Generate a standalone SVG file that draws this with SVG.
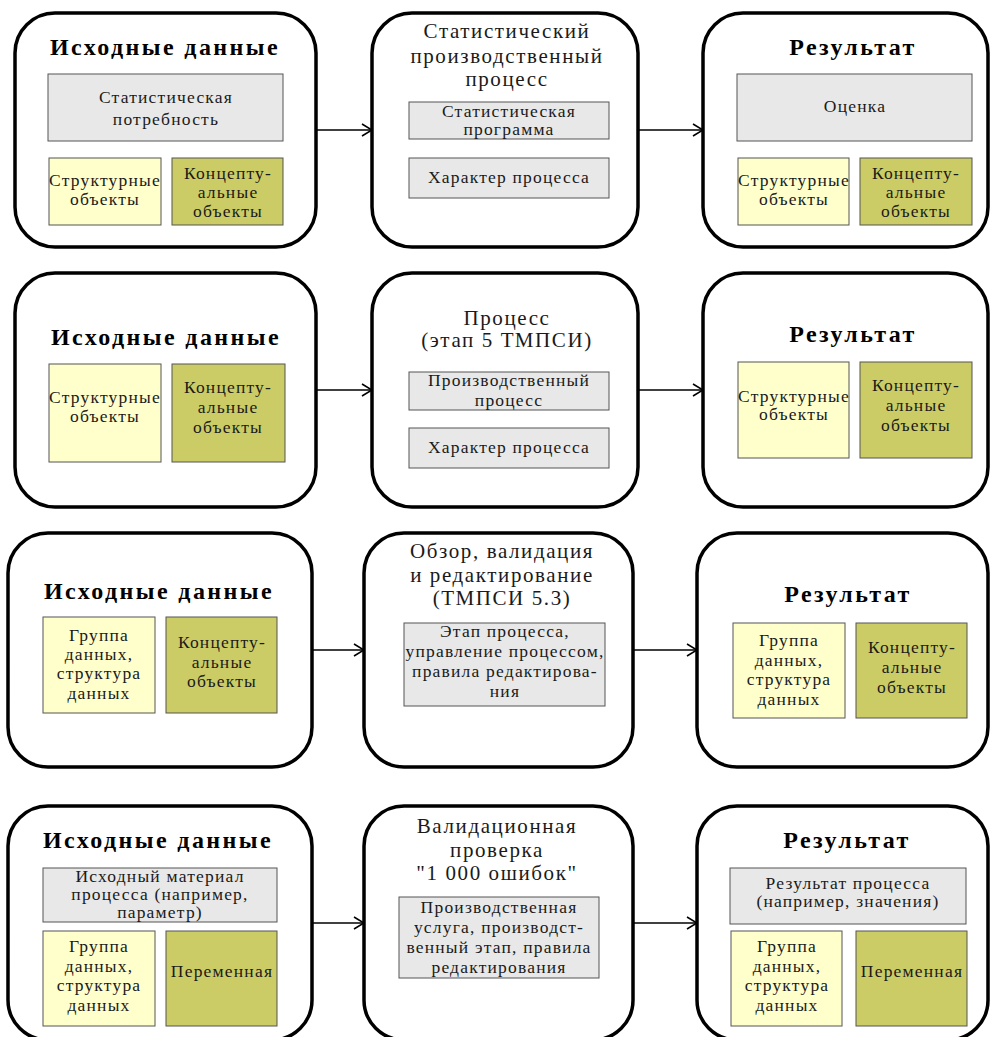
<svg xmlns="http://www.w3.org/2000/svg" width="991" height="1037" viewBox="0 0 991 1037">
<defs>
<marker id="arr" markerWidth="12" markerHeight="14" refX="11" refY="7" orient="auto" markerUnits="userSpaceOnUse">
<path d="M1,1 L11,7 L1,13" fill="none" stroke="#000" stroke-width="1.6"/>
</marker>
<style>
.panel{fill:#fff;stroke:#000;stroke-width:3.5}
.g{fill:#e8e8e8;stroke:#555;stroke-width:1}
.y{fill:#ffffcc;stroke:#555;stroke-width:1}
.o{fill:#cccc66;stroke:#555;stroke-width:1}
.h{font-family:"Liberation Serif",serif;font-weight:bold;font-size:24px;letter-spacing:2.4px;text-anchor:middle;fill:#000}
.t{font-family:"Liberation Serif",serif;font-size:17.5px;letter-spacing:1.2px;text-anchor:middle;fill:#1a1a1a}
.m{font-family:"Liberation Serif",serif;font-size:21px;letter-spacing:1.6px;text-anchor:middle;fill:#1a1a1a}
.c{fill:none;stroke:#000;stroke-width:1.6}
</style>
</defs>

<g id="connectors">
<line class="c" x1="316" y1="130" x2="372" y2="130" marker-end="url(#arr)"/>
<line class="c" x1="638" y1="130" x2="703" y2="130" marker-end="url(#arr)"/>
<line class="c" x1="316" y1="390" x2="372" y2="390" marker-end="url(#arr)"/>
<line class="c" x1="638" y1="390" x2="703" y2="390" marker-end="url(#arr)"/>
<line class="c" x1="312" y1="650" x2="364" y2="650" marker-end="url(#arr)"/>
<line class="c" x1="633" y1="650" x2="697" y2="650" marker-end="url(#arr)"/>
<line class="c" x1="312" y1="923" x2="364" y2="923" marker-end="url(#arr)"/>
<line class="c" x1="633" y1="923" x2="697" y2="923" marker-end="url(#arr)"/>
</g>

<!-- Row 1 -->
<g id="r1-input">
<rect class="panel" x="15" y="13" width="301" height="234" rx="40"/>
<text class="h" x="165" y="55">Исходные данные</text>
<rect class="g" x="48" y="74" width="235" height="67"/>
<text class="t" x="166" y="103">Статистическая</text>
<text class="t" x="166" y="125">потребность</text>
<rect class="y" x="49" y="158" width="112" height="67"/>
<text class="t" x="105" y="186">Структурные</text>
<text class="t" x="105" y="205">объекты</text>
<rect class="o" x="172" y="158" width="111" height="67"/>
<text class="t" x="228" y="179">Концепту-</text>
<text class="t" x="228" y="198">альные</text>
<text class="t" x="228" y="217">объекты</text>
</g>
<g id="r1-process">
<rect class="panel" x="372" y="13" width="266" height="234" rx="40"/>
<text class="m" x="507" y="38">Статистический</text>
<text class="m" x="507" y="63">производственный</text>
<text class="m" x="507" y="86">процесс</text>
<rect class="g" x="409" y="102" width="200" height="37"/>
<text class="t" x="509" y="117">Статистическая</text>
<text class="t" x="509" y="135">программа</text>
<rect class="g" x="409" y="158" width="200" height="40"/>
<text class="t" x="509" y="183">Характер процесса</text>
</g>
<g id="r1-output">
<rect class="panel" x="703" y="13" width="285" height="234" rx="40"/>
<text class="h" x="853" y="55">Результат</text>
<rect class="g" x="737" y="74" width="235" height="67"/>
<text class="t" x="855" y="112">Оценка</text>
<rect class="y" x="738" y="158" width="111" height="67"/>
<text class="t" x="794" y="186">Структурные</text>
<text class="t" x="794" y="205">объекты</text>
<rect class="o" x="860" y="158" width="112" height="67"/>
<text class="t" x="916" y="179">Концепту-</text>
<text class="t" x="916" y="198">альные</text>
<text class="t" x="916" y="217">объекты</text>
</g>

<!-- Row 2 -->
<g id="r2-input">
<rect class="panel" x="15" y="273" width="301" height="234" rx="40"/>
<text class="h" x="166" y="345">Исходные данные</text>
<rect class="y" x="49" y="364" width="112" height="98"/>
<text class="t" x="105" y="403">Структурные</text>
<text class="t" x="105" y="422">объекты</text>
<rect class="o" x="172" y="364" width="113" height="98"/>
<text class="t" x="228" y="393">Концепту-</text>
<text class="t" x="228" y="413">альные</text>
<text class="t" x="228" y="433">объекты</text>
</g>
<g id="r2-process">
<rect class="panel" x="372" y="273" width="266" height="234" rx="40"/>
<text class="m" x="507" y="325">Процесс</text>
<text class="m" x="507" y="347">(этап 5 ТМПСИ)</text>
<rect class="g" x="409" y="372" width="200" height="38"/>
<text class="t" x="509" y="386">Производственный</text>
<text class="t" x="509" y="406">процесс</text>
<rect class="g" x="409" y="428" width="200" height="40"/>
<text class="t" x="509" y="453">Характер процесса</text>
</g>
<g id="r2-output">
<rect class="panel" x="703" y="273" width="285" height="234" rx="40"/>
<text class="h" x="853" y="342">Результат</text>
<rect class="y" x="738" y="362" width="111" height="96"/>
<text class="t" x="794" y="402">Структурные</text>
<text class="t" x="794" y="420">объекты</text>
<rect class="o" x="860" y="362" width="112" height="96"/>
<text class="t" x="916" y="391">Концепту-</text>
<text class="t" x="916" y="411">альные</text>
<text class="t" x="916" y="431">объекты</text>
</g>

<!-- Row 3 -->
<g id="r3-input">
<rect class="panel" x="8" y="533" width="304" height="234" rx="40"/>
<text class="h" x="159" y="599">Исходные данные</text>
<rect class="y" x="43" y="617" width="112" height="96"/>
<text class="t" x="99" y="641">Группа</text>
<text class="t" x="99" y="660">данных,</text>
<text class="t" x="99" y="679">структура</text>
<text class="t" x="99" y="699">данных</text>
<rect class="o" x="166" y="617" width="111" height="96"/>
<text class="t" x="222" y="648">Концепту-</text>
<text class="t" x="222" y="668">альные</text>
<text class="t" x="222" y="687">объекты</text>
</g>
<g id="r3-process">
<rect class="panel" x="364" y="533" width="269" height="234" rx="40"/>
<text class="m" x="502" y="558">Обзор, валидация</text>
<text class="m" x="502" y="582">и редактирование</text>
<text class="m" x="502" y="605">(ТМПСИ 5.3)</text>
<rect class="g" x="404" y="623" width="201" height="83"/>
<text class="t" x="505" y="637">Этап процесса,</text>
<text class="t" x="505" y="657">управление процессом,</text>
<text class="t" x="505" y="677">правила редактирова-</text>
<text class="t" x="505" y="697">ния</text>
</g>
<g id="r3-output">
<rect class="panel" x="697" y="533" width="291" height="234" rx="40"/>
<text class="h" x="848" y="602">Результат</text>
<rect class="y" x="733" y="623" width="112" height="95"/>
<text class="t" x="789" y="646">Группа</text>
<text class="t" x="789" y="666">данных,</text>
<text class="t" x="789" y="685">структура</text>
<text class="t" x="789" y="705">данных</text>
<rect class="o" x="856" y="623" width="111" height="95"/>
<text class="t" x="912" y="653">Концепту-</text>
<text class="t" x="912" y="673">альные</text>
<text class="t" x="912" y="693">объекты</text>
</g>

<!-- Row 4 -->
<g id="r4-input">
<rect class="panel" x="8" y="806" width="304" height="234" rx="40"/>
<text class="h" x="158" y="848">Исходные данные</text>
<rect class="g" x="43" y="868" width="234" height="54"/>
<text class="t" x="160" y="882">Исходный материал</text>
<text class="t" x="160" y="900">процесса (например,</text>
<text class="t" x="160" y="918">параметр)</text>
<rect class="y" x="43" y="931" width="112" height="95"/>
<text class="t" x="99" y="952">Группа</text>
<text class="t" x="99" y="972">данных,</text>
<text class="t" x="99" y="991">структура</text>
<text class="t" x="99" y="1011">данных</text>
<rect class="o" x="166" y="931" width="111" height="95"/>
<text class="t" x="222" y="977">Переменная</text>
</g>
<g id="r4-process">
<rect class="panel" x="364" y="806" width="269" height="234" rx="40"/>
<text class="m" x="497" y="833">Валидационная</text>
<text class="m" x="497" y="857">проверка</text>
<text class="m" x="497" y="880">"1 000 ошибок"</text>
<rect class="g" x="399" y="897" width="200" height="81"/>
<text class="t" x="499" y="913">Производственная</text>
<text class="t" x="499" y="933">услуга, производст-</text>
<text class="t" x="499" y="953">венный этап, правила</text>
<text class="t" x="499" y="973">редактирования</text>
</g>
<g id="r4-output">
<rect class="panel" x="697" y="806" width="291" height="234" rx="40"/>
<text class="h" x="847" y="848">Результат</text>
<rect class="g" x="730" y="868" width="236" height="56"/>
<text class="t" x="848" y="889">Результат процесса</text>
<text class="t" x="848" y="907">(например, значения)</text>
<rect class="y" x="731" y="931" width="111" height="95"/>
<text class="t" x="787" y="952">Группа</text>
<text class="t" x="787" y="972">данных,</text>
<text class="t" x="787" y="991">структура</text>
<text class="t" x="787" y="1011">данных</text>
<rect class="o" x="856" y="931" width="111" height="95"/>
<text class="t" x="912" y="977">Переменная</text>
</g>
</svg>
